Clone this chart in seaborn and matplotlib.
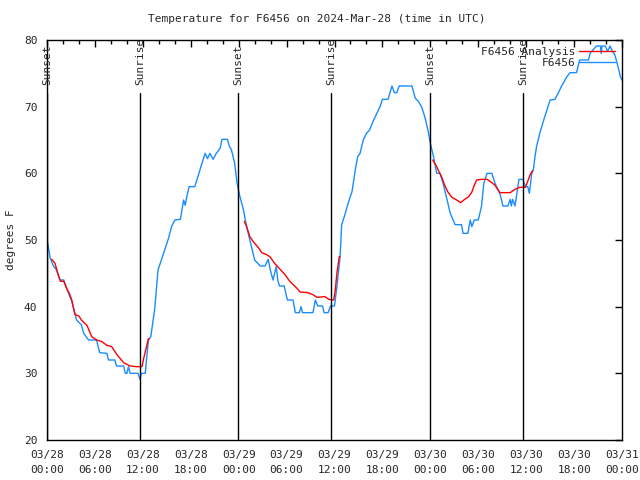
import matplotlib
matplotlib.use('Agg')
import numpy as np
import pandas as pd
import matplotlib.pyplot as plt
import seaborn as sns
from matplotlib.lines import Line2D
from matplotlib.ticker import MultipleLocator

# hours since 03/28 00:00 UTC
obs_h = [0.0, 0.4, 0.8, 1.2, 1.6, 2.1, 2.7, 3.1, 3.5, 3.7, 4.3, 4.6, 5.2, 6.2, 6.6, 7.5, 7.7, 8.5,
         8.7, 9.6, 9.8, 10.0, 10.2, 10.4, 11.4, 11.65, 11.8, 12.3, 12.7, 13.0, 13.5, 13.9, 14.6,
         15.2, 15.6, 16.0, 16.7, 16.9, 17.1, 17.3, 17.5, 17.8, 18.5, 18.9, 19.4, 19.8, 20.1,
         20.4, 20.8, 21.2, 21.7, 21.9, 22.6, 22.8, 23.1, 23.5, 23.8, 24.1, 24.6, 25.0, 25.4,
         25.8, 26.0, 26.7, 27.3, 27.7, 28.0, 28.3, 28.7, 28.9, 29.1, 29.7, 30.1, 30.8, 31.1,
         31.6, 31.8, 32.0, 33.3, 33.6, 33.9, 34.5, 34.7, 35.2, 35.5, 36.0, 36.3, 36.7, 36.9,
         37.3, 37.7, 38.2, 38.6, 38.9, 39.2, 39.6, 40.0, 40.4, 40.9, 41.3, 41.7, 42.0, 42.7,
         43.2, 43.5, 43.8, 44.1, 45.7, 46.1, 46.5, 46.9, 47.3, 47.7, 48.0, 48.4, 48.8, 49.2,
         49.6, 50.0, 50.5, 51.1, 51.9, 52.1, 52.7, 53.0, 53.2, 53.5, 54.0, 54.4, 54.7, 55.1,
         55.7, 56.1, 56.7, 57.1, 57.7, 58.0, 58.15, 58.3, 58.6, 59.1, 59.6, 59.9, 60.2, 60.4,
         60.7, 60.9, 61.1, 61.3, 61.7, 62.2, 62.6, 63.0, 63.6, 64.0, 64.4, 65.1, 65.5, 66.3,
         66.7, 67.8, 68.0, 68.8, 69.3, 69.4, 69.5, 69.9, 70.2, 70.5, 70.8, 71.1, 71.5, 71.8, 72.0]
obs_t = [50.1, 47.3, 46.1, 45.5, 44.0, 44.0, 42.0, 40.8, 39.0, 38.0, 37.3, 36.0, 35.0, 35.0, 33.1, 33.0, 32.0, 32.0,
         31.1, 31.1, 30.0, 30.0, 31.0, 30.0, 30.0, 29.1, 30.0, 30.0, 35.0, 35.5, 39.8, 45.5, 48.0,
         50.2, 52.0, 53.0, 53.1, 54.5, 56.0, 55.2, 56.5, 58.0, 58.0, 59.5, 61.5, 63.0, 62.2,
         63.0, 62.1, 63.0, 63.8, 65.1, 65.1, 64.2, 63.5, 61.5, 58.5, 56.8, 54.5, 52.0, 50.0,
         48.0, 47.0, 46.1, 46.1, 47.1, 45.3, 44.0, 46.0, 44.0, 43.1, 43.1, 41.0, 41.0, 39.1,
         39.1, 40.0, 39.1, 39.1, 41.0, 40.1, 40.1, 39.1, 39.1, 40.1, 40.1, 43.0, 47.5, 52.3,
         53.8, 55.5, 57.3, 60.5, 62.5, 63.0, 65.0, 66.0, 66.5, 68.0, 69.0, 70.0, 71.1, 71.1,
         73.1, 72.1, 72.1, 73.1, 73.1, 71.3, 70.8, 70.0, 68.5, 66.5, 64.5, 62.5, 60.0, 60.0,
         58.5, 56.5, 54.0, 52.3, 52.3, 51.0, 51.0, 53.0, 52.0, 53.0, 53.0, 55.0, 58.5, 60.0,
         60.0, 58.5, 57.0, 55.1, 55.1, 56.1, 55.1, 56.1, 55.1, 59.1, 59.1, 58.0, 58.0, 57.0,
         60.0, 60.5, 62.5, 64.0, 66.0, 68.0, 69.5, 71.0, 71.1, 72.0, 73.0, 74.5, 75.1, 75.1,
         77.0, 77.0, 78.0, 79.1, 79.1, 78.0, 79.1, 79.1, 78.3, 79.1, 78.3, 77.8, 76.0, 74.5, 74.0]

# analysis series, three separate pieces
ana_h = [0.6, 1.0, 1.4, 1.7, 2.1, 2.5, 2.8, 3.1, 3.5, 4.0, 4.3, 5.0, 5.6, 6.2, 6.8, 7.5, 8.1, 8.7,
         9.6, 10.4, 11.2, 11.9, 12.1, 12.5, 12.7, 12.8,
         24.7, 25.0, 25.4, 25.8, 26.5, 26.9, 27.5, 27.9, 28.5, 29.2, 29.8, 30.4, 31.1, 31.7,
         32.7, 33.3, 33.8, 34.8, 35.3, 35.9, 36.1, 36.3, 36.6, 36.7,
         48.3, 48.7, 49.4, 49.8, 50.2, 50.7, 51.3, 51.8, 52.3, 52.8, 53.2, 53.5, 53.8, 54.4,
         55.1, 55.7, 56.1, 56.7, 58.0, 58.6, 59.2, 59.9, 60.1, 60.5, 60.8]
ana_t = [47.1, 46.5, 44.8, 43.8, 43.8, 42.6, 42.0, 41.0, 38.8, 38.6, 38.0, 37.2, 35.5, 35.0, 34.8, 34.2, 34.0, 32.9,
         31.6, 31.1, 31.0, 31.0, 32.2, 34.2, 35.2, 35.2,
         52.8, 52.0, 50.5, 49.8, 48.8, 48.1, 47.8, 47.5, 46.5, 45.6, 44.8, 43.8, 43.0, 42.2,
         42.1, 41.8, 41.4, 41.5, 41.1, 41.0, 42.5, 45.0, 47.5, 47.5,
         62.0, 61.2, 59.5, 58.2, 57.2, 56.4, 56.0, 55.6, 56.1, 56.5, 57.2, 58.2, 59.0, 59.1,
         59.1, 58.6, 58.2, 57.1, 57.1, 57.6, 57.9, 57.9, 58.5, 59.8, 60.4]
ana_seg = [0] * 26 + [1] * 24 + [2] * 25

sun_h = [0.02, 11.65, 23.9, 35.56, 47.96, 59.6]
sun_lbl = ['Sunset', 'Sunrise', 'Sunset', 'Sunrise', 'Sunset', 'Sunrise']

tick_h = list(range(0, 73, 6))
tick_lbl = ['03/28\n00:00', '03/28\n06:00', '03/28\n12:00', '03/28\n18:00',
            '03/29\n00:00', '03/29\n06:00', '03/29\n12:00', '03/29\n18:00',
            '03/30\n00:00', '03/30\n06:00', '03/30\n12:00', '03/30\n18:00',
            '03/31\n00:00']

blue = '#1a8cff'
red = '#ff0000'

sns.set_style('white')
plt.rcParams['font.family'] = ['DejaVu Sans Mono']
plt.rcParams['font.size'] = 8

obs = pd.DataFrame({'h': obs_h, 't': obs_t})
ana = pd.DataFrame({'h': ana_h, 't': ana_t, 'seg': ana_seg})

fig = plt.figure(figsize=(6.4, 4.8), dpi=100)
ax = fig.add_axes([47 / 640, 40 / 480, 575 / 640, 400 / 480])

sns.lineplot(data=obs, x='h', y='t', color=blue, lw=1, ax=ax, estimator=None, sort=False)
sns.lineplot(data=ana, x='h', y='t', units='seg', estimator=None, color=red, lw=1, ax=ax, sort=False)

for h, lbl in zip(sun_h, sun_lbl):
    ax.plot([h, h], [20, 72], color='black', lw=1)
    ax.text(h, 73.2, lbl, rotation=90, ha='center', va='bottom', fontsize=8)

ax.set_xlim(0, 72)
ax.set_ylim(20, 80)
ax.set_xticks(tick_h)
ax.set_xticklabels(tick_lbl, linespacing=1.6)
ax.xaxis.set_minor_locator(MultipleLocator(2))
ax.set_yticks(range(20, 81, 10))
ax.tick_params(which='both', direction='in', top=True, right=True, color='black')
ax.tick_params(which='major', length=5, width=1, pad=7)
ax.tick_params(which='minor', length=3, width=1)
ax.set_xlabel('')
ax.set_ylabel('degrees F')
ax.yaxis.set_label_coords(-0.054, 0.5)
for s in ax.spines.values():
    s.set_color('black')
    s.set_linewidth(1)

fig.text(0.495, 1 - 19 / 480, 'Temperature for F6456 on 2024-Mar-28 (time in UTC)',
         ha='center', va='center', fontsize=8)

handles = [Line2D([], [], color=red, lw=1), Line2D([], [], color=blue, lw=1)]
ax.legend(handles, ['F6456 Analysis', 'F6456'], loc='upper right', frameon=False,
          markerfirst=False, handlelength=3.3, handletextpad=0.3, labelspacing=0.15,
          borderaxespad=0.2, fontsize=8)

fig.savefig('out.png', dpi=100)
